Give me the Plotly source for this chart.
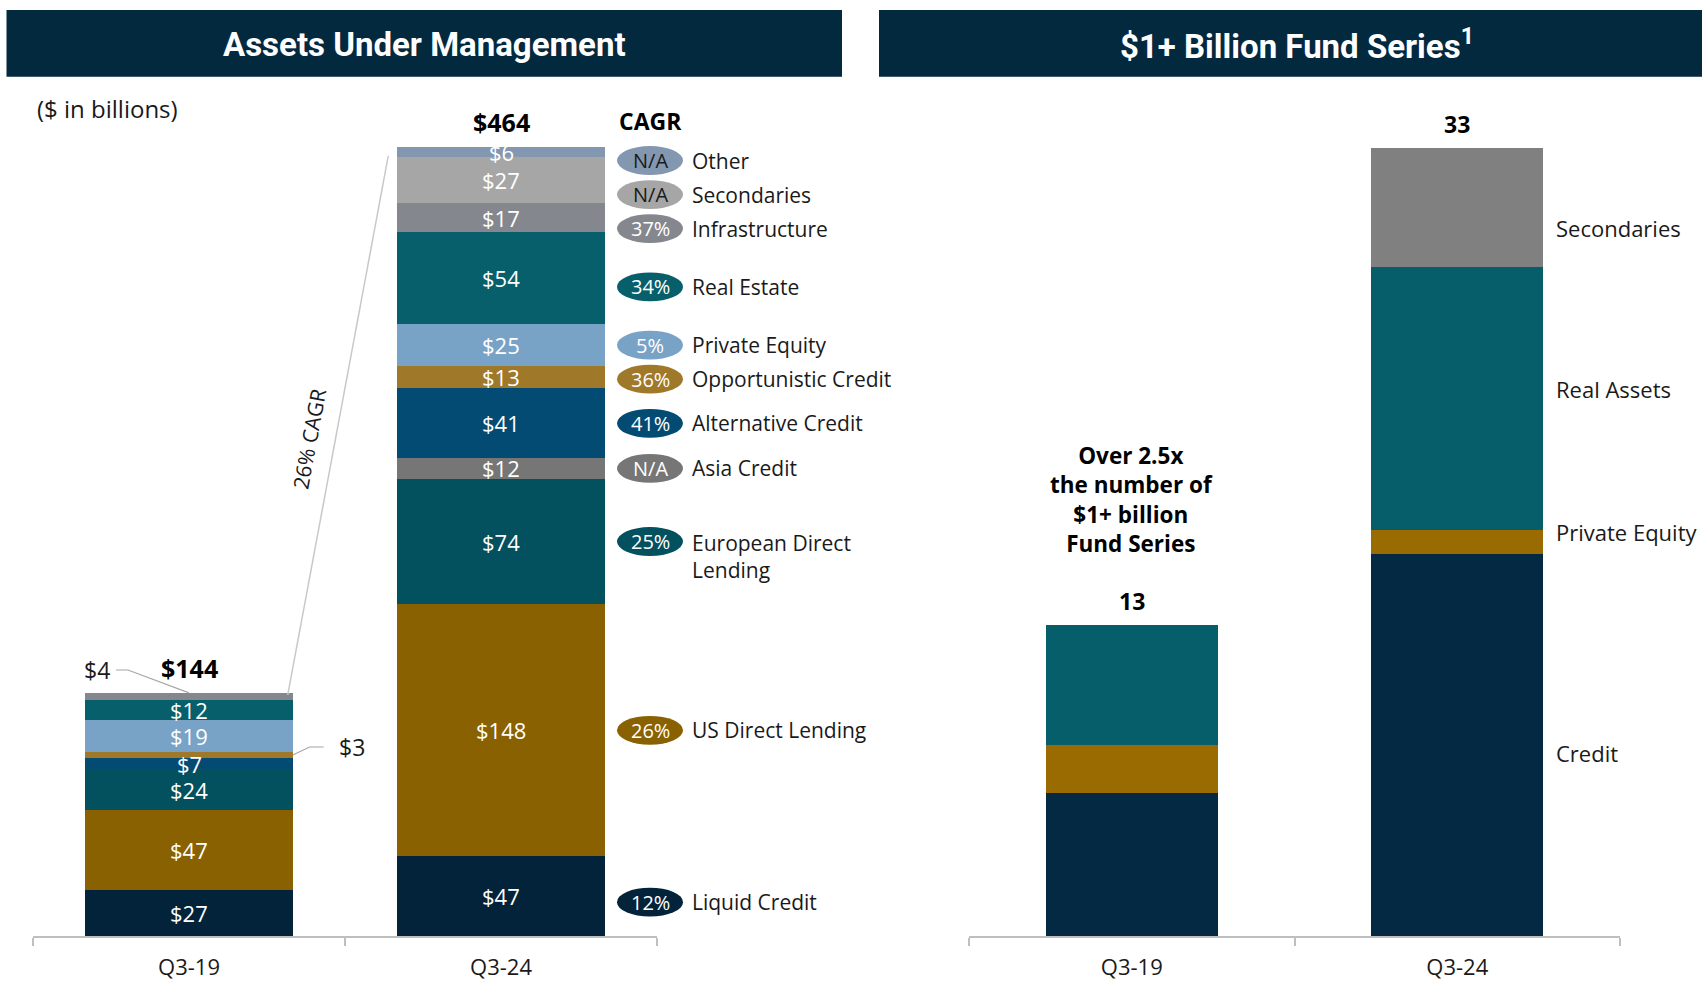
import plotly.graph_objects as go

# ---------------- DATA ----------------
categories = ["Q3-19", "Q3-24"]

aum_series = ["Liquid Credit", "US Direct Lending", "European Direct<br>Lending", "Asia Credit",
              "Alternative Credit", "Opportunistic Credit", "Private Equity", "Real Estate",
              "Infrastructure", "Secondaries", "Other"]
liquid_credit = [27, 47]
us_direct_lending = [47, 148]
european_direct_lending = [24, 74]
asia_credit = [0, 12]
alternative_credit = [7, 41]
opportunistic_credit = [3, 13]
private_equity = [19, 25]
real_estate = [12, 54]
infrastructure = [4, 17]
secondaries = [0, 27]
other = [0, 6]
aum_totals = ["$144", "$464"]
cagr_values = ["12%", "26%", "25%", "N/A", "41%", "36%", "5%", "34%", "37%", "N/A", "N/A"]
total_cagr = "26% CAGR"

fund_series = ["Credit", "Private Equity", "Real Assets", "Secondaries"]
fund_credit = [6, 16]
fund_private_equity = [2, 1]
fund_real_assets = [5, 11]
fund_secondaries = [0, 5]
fund_totals = ["13", "33"]
fund_note = "Over 2.5x<br>the number of<br>$1+ billion<br>Fund Series"

# ---------------- STYLE ----------------
W, H = 1702, 981
NAVY = "#03293f"
TXT = "#1a1a1a"
BODY = "Open Sans"
HEAD = "Roboto"
aum_colors = ["#02233a", "#8a6100", "#03505f", "#767676", "#044b73", "#a0782a",
              "#78a3c7", "#075f6c", "#85878f", "#a6a6a6", "#8497b0"]
cagr_text_colors = ["white"] * 9 + [TXT, TXT]
cagr_shift_px = [-6, 0, 0, 0, 0, 0, 0, -9, 0, 0, 0]
fund_colors = ["#032a42", "#9a6b00", "#065e6b", "#808080"]
fund_label_shift_px = [-8, 10, 9, -21]

aum_values = [liquid_credit, us_direct_lending, european_direct_lending, asia_credit,
              alternative_credit, opportunistic_credit, private_equity, real_estate,
              infrastructure, secondaries, other]
fund_values = [fund_credit, fund_private_equity, fund_real_assets, fund_secondaries]

axis_bottom_px = 939
left_dom = [33 / W, 657 / W]
right_dom = [969 / W, 1620 / W]
y_dom = [1 - axis_bottom_px / H, 1]
left_ppu = 1.706     # pixels per $bn
right_ppu = 23.97    # pixels per fund series
left_bar_w = 0.665
right_bar_w = 0.527

fig = go.Figure()

for name, vals, col in zip(aum_series, aum_values, aum_colors):
    fig.add_trace(go.Bar(
        x=categories, y=vals, name=name, marker=dict(color=col, line=dict(width=0)),
        width=left_bar_w, hoverinfo="skip", xaxis="x", yaxis="y", showlegend=False))

for name, vals, col in zip(fund_series, fund_values, fund_colors):
    fig.add_trace(go.Bar(
        x=categories, y=vals, name=name, marker=dict(color=col, line=dict(width=0)),
        width=right_bar_w, hoverinfo="skip", xaxis="x2", yaxis="y2", showlegend=False))

ann = []
shapes = []

# headers
shapes.append(dict(type="rect", xref="paper", yref="paper", x0=6.5 / W, x1=842 / W,
                   y0=1 - 77 / H, y1=1 - 10 / H, fillcolor=NAVY, line=dict(width=0), layer="below"))
shapes.append(dict(type="rect", xref="paper", yref="paper", x0=879 / W, x1=1.0,
                   y0=1 - 77 / H, y1=1 - 10 / H, fillcolor=NAVY, line=dict(width=0), layer="below"))
ann.append(dict(text="<b>Assets Under Management</b>", xref="paper", yref="paper",
                x=424 / W, y=1 - 44.5 / H, showarrow=False, xanchor="center", yanchor="middle",
                font=dict(family=HEAD, size=33, color="white")))
ann.append(dict(text="<b>$1+ Billion Fund Series<sup>1</sup></b>", xref="paper", yref="paper",
                x=1297 / W, y=1 - 44.5 / H, showarrow=False, xanchor="center", yanchor="middle",
                font=dict(family=HEAD, size=33, color="white")))
ann.append(dict(text="($ in billions)", xref="paper", yref="paper", x=35 / W, y=1 - 108.5 / H,
                showarrow=False, xanchor="left", yanchor="middle",
                font=dict(family=BODY, size=24, color=TXT)))

# stack tops / centers
n = len(aum_values)
stack_tops = []
for j in range(len(categories)):
    acc, tops = 0, []
    for vals in aum_values:
        acc += vals[j]
        tops.append(acc)
    stack_tops.append(tops)
totals_num = [stack_tops[j][-1] for j in range(len(categories))]

# segment value labels (drawn as annotations so neighbours never hide them)
for j in range(len(categories)):
    for i in range(n):
        v = aum_values[i][j]
        if v >= 5:
            ann.append(dict(text=f"${v}", xref="x", yref="y", x=categories[j],
                            y=stack_tops[j][i] - v / 2, showarrow=False, yanchor="middle",
                            font=dict(family=BODY, size=22, color="white")))

for j, t in enumerate(aum_totals):
    ann.append(dict(text=f"<b>{t}</b>", xref="x", yref="y", x=categories[j], y=totals_num[j],
                    yshift=25, showarrow=False, yanchor="middle",
                    font=dict(family=BODY, size=25, color="black")))

# CAGR legend (ellipses at segment centres, spread to avoid overlap)
centers = [stack_tops[1][i] - aum_values[i][1] / 2 for i in range(n)]
label_y = [0] * n
prev = None
for i in reversed(range(n)):
    if prev is None:
        y = min(centers[i], totals_num[1] - 8)
    else:
        y = min(centers[i], prev - 20)
    label_y[i] = y
    prev = y
label_y = [y + s / left_ppu for y, s in zip(label_y, cagr_shift_px)]

ell_cx, ell_w, ell_h = 650, 66, 29
ann.append(dict(text="<b>CAGR</b>", xref="paper", yref="paper", x=ell_cx / W, y=1 - 121.5 / H,
                showarrow=False, xanchor="center", yanchor="middle",
                font=dict(family=BODY, size=23, color="black")))
for i in range(n):
    hy = ell_h / 2 / left_ppu
    shapes.append(dict(type="circle", xref="paper", yref="y",
                       x0=(ell_cx - ell_w / 2) / W, x1=(ell_cx + ell_w / 2) / W,
                       y0=label_y[i] - hy, y1=label_y[i] + hy,
                       fillcolor=aum_colors[i], line=dict(width=0)))
    ann.append(dict(text=cagr_values[i], xref="paper", yref="y", x=ell_cx / W, y=label_y[i],
                    showarrow=False, xanchor="center", yanchor="middle",
                    font=dict(family=BODY, size=20, color=cagr_text_colors[i])))
    multi = "<br>" in aum_series[i]
    ann.append(dict(text=aum_series[i], xref="paper", yref="y", x=690 / W, y=label_y[i],
                    showarrow=False, xanchor="left", yanchor="top" if multi else "middle",
                    yshift=15 if multi else 0, align="left",
                    font=dict(family=BODY, size=21, color=TXT)))

# small-value callouts on Q3-19
def px_to_x(dx_px):
    return dx_px / 312.0

def px_to_y(dy_px):
    return dy_px / left_ppu

infra_top = stack_tops[0][8]
shapes.append(dict(type="path", xref="x", yref="y", line=dict(color="#a6a6a6", width=1.2),
                   path=f"M {0 - px_to_x(73)},{infra_top + px_to_y(23)} "
                        f"L {0 - px_to_x(61)},{infra_top + px_to_y(23)} L 0,{infra_top}"))
ann.append(dict(text=f"${infrastructure[0]}", xref="x", yref="y", x=0 - px_to_x(77),
                y=infra_top + px_to_y(23), showarrow=False, xanchor="right", yanchor="middle",
                font=dict(family=BODY, size=23, color=TXT)))
opp_mid = stack_tops[0][5] - opportunistic_credit[0] / 2
edge = left_bar_w / 2
shapes.append(dict(type="path", xref="x", yref="y", line=dict(color="#a6a6a6", width=1.2),
                   path=f"M {edge},{opp_mid} L {edge + px_to_x(17)},{opp_mid + px_to_y(8)} "
                        f"L {edge + px_to_x(31)},{opp_mid + px_to_y(8)}"))
ann.append(dict(text=f"${opportunistic_credit[0]}", xref="x", yref="y", x=edge + px_to_x(44),
                y=opp_mid + px_to_y(8), showarrow=False, xanchor="left", yanchor="middle",
                font=dict(family=BODY, size=23, color=TXT)))

# CAGR connector
x_a, y_a = edge - px_to_x(5), totals_num[0] - px_to_y(2)
x_b, y_b = 1 - edge - px_to_x(9), totals_num[1] - px_to_y(9)
shapes.append(dict(type="line", xref="x", yref="y", x0=x_a, y0=y_a, x1=x_b, y1=y_b,
                   line=dict(color="#c8c8c8", width=1.5)))
ann.append(dict(text=total_cagr, xref="paper", yref="paper", x=309 / W, y=1 - 440 / H,
                showarrow=False, textangle=-79.5, xanchor="center", yanchor="middle",
                font=dict(family=BODY, size=21, color=TXT)))

# right chart annotations
fund_tot = [sum(v[j] for v in fund_values) for j in range(len(categories))]
for j, t in enumerate(fund_totals):
    ann.append(dict(text=f"<b>{t}</b>", xref="x2", yref="y2", x=categories[j], y=fund_tot[j],
                    yshift=24, showarrow=False, yanchor="middle",
                    font=dict(family=BODY, size=23, color="black")))
ann.append(dict(text=f"<b>{fund_note}</b>", xref="x2", yref="paper", x=categories[0],
                y=1 - 501.5 / H, showarrow=False, yanchor="middle", align="center",
                font=dict(family=BODY, size=22.5, color="black")))
acc = 0
for name, vals, sh in zip(fund_series, fund_values, fund_label_shift_px):
    mid = acc + vals[1] / 2
    acc += vals[1]
    ann.append(dict(text=name, xref="paper", yref="y2", x=1554 / W, y=mid, yshift=sh,
                    showarrow=False, xanchor="left", yanchor="middle",
                    font=dict(family=BODY, size=22, color=TXT)))

axis_common = dict(type="category", range=[-0.5, 1.5], showline=True, linecolor="#bfbfbf",
                   linewidth=1.5, ticks="outside", tickson="boundaries", ticklen=8,
                   tickcolor="#bfbfbf", tickwidth=1.5, showgrid=False, zeroline=False,
                   tickfont=dict(family=BODY, size=22, color=TXT), ticklabelstandoff=11,
                   fixedrange=True)

fig.update_layout(
    width=W, height=H, margin=dict(l=0, r=0, t=0, b=0),
    paper_bgcolor="white", plot_bgcolor="white", barmode="stack",
    xaxis=dict(domain=left_dom, anchor="y", **axis_common),
    yaxis=dict(domain=y_dom, range=[0, axis_bottom_px / left_ppu], visible=False, anchor="x"),
    xaxis2=dict(domain=right_dom, anchor="y2", **axis_common),
    yaxis2=dict(domain=y_dom, range=[0, axis_bottom_px / right_ppu], visible=False, anchor="x2"),
    annotations=ann, shapes=shapes, showlegend=False,
)

fig.write_html("out.html", config={"displayModeBar": False},
               post_script="document.body.style.margin='0px';document.body.style.overflow='hidden';")
